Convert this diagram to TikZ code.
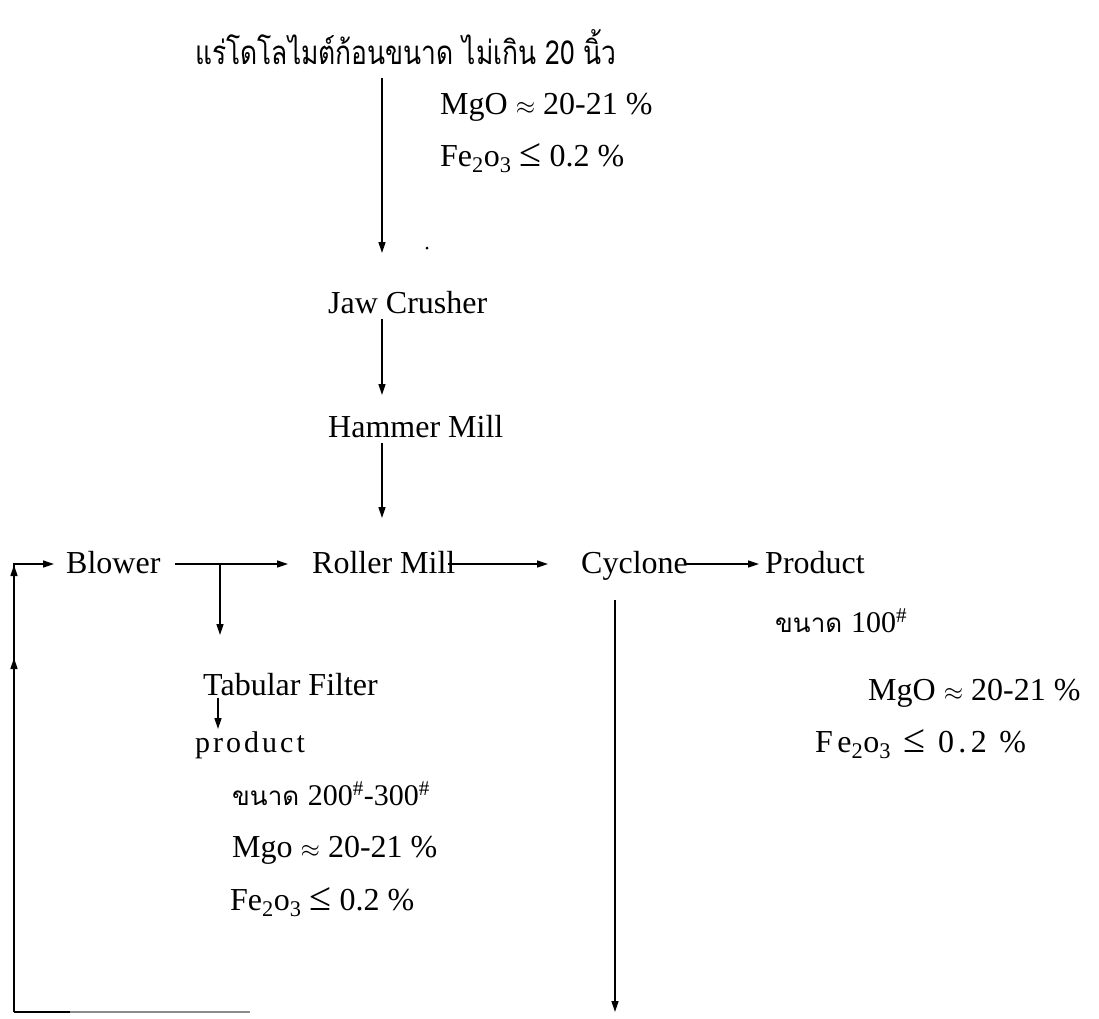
\documentclass[tikz,border=0pt]{standalone}
\usepackage{fontspec}
\setmainfont{Liberation Serif}
\newfontfamily\thai[Script=Thai]{Loma}
\newfontfamily\spaced[LetterSpace=14]{Liberation Serif}
\newfontfamily\spacedb[LetterSpace=10]{Liberation Serif}
\usetikzlibrary{arrows.meta}
\newcommand{\lesym}{\scalebox{1.25}{≤}}
\begin{document}
\begin{tikzpicture}[x=1pt,y=-1pt,
  font=\fontsize{32}{38}\selectfont,
  lbl/.style={inner sep=0pt, anchor=base west},
  ln/.style={line width=1.4pt},
  arr/.style={line width=1.4pt,-{Triangle[length=11pt,width=7pt]}}]
\fill[white] (0,0) rectangle (1099,1018);
\useasboundingbox (0,0) rectangle (1099,1018);

% top column
\node[lbl] (title) at (195,64) {\scalebox{0.88}[1.1]{\thai\fontsize{30}{36}\selectfont แร่โดโลไมต์ก้อนขนาด ไม่เกิน 20 นิ้ว}};
\node[lbl] (mgo1) at (440,114) {MgO $\approx$ 20-21 \%};
\node[lbl] (fe1) at (440,166) {Fe\textsubscript{2}o\textsubscript{3} \lesym{} 0.2 \%};
\fill (427,248) circle (1.5);
\node[lbl] (jaw) at (328,313) {Jaw Crusher};
\node[lbl] (hammer) at (328,437) {Hammer Mill};

\coordinate (colx) at (382,0);
\coordinate (rowy) at (0,564);
\draw[arr] (title.south -| colx) ++(0,14) -- (colx |- 0,253);
\draw[arr] ([yshift=-5]jaw.south -| colx) -- (colx |- 0,395);
\draw[arr] ([yshift=-5]hammer.south -| colx) -- (colx |- 0,518);

% main row
\node[lbl] (blower) at (66,573) {Blower};
\node[lbl] (roller) at (312,573) {Roller Mill};
\node[lbl] (cyclone) at (581,573) {Cyclone};
\node[lbl] (product) at (765,573) {Product};

\draw[arr] ([xshift=14]blower.east |- rowy) -- ([xshift=-24]roller.west |- rowy);
\draw[arr] ([xshift=-8]roller.east |- rowy) -- ([xshift=-33]cyclone.west |- rowy);
\draw[arr] ([xshift=-4]cyclone.east |- rowy) -- ([xshift=-6]product.west |- rowy);

% right products
\node[lbl] (size1) at (775,632) {\thai\fontsize{26}{30}\selectfont ขนาด {\rmfamily\fontsize{30}{36}\selectfont 100\textsuperscript{\#}}};
\node[lbl] (mgo3) at (868,700) {MgO $\approx$ 20-21 \%};
\node[lbl] (fe3) at (815,752) {\spaced Fe\textsubscript{2}o\textsubscript{3} \lesym{} 0.2 \%};

% tabular filter branch
\coordinate (dropx) at (220,0);
\node[lbl] (tab) at (203,695) {Tabular Filter};
\node[lbl] (prod2) at (195,752) {\spacedb\fontsize{30}{36}\selectfont product};
\node[lbl] (size2) at (232,805) {\thai\fontsize{26}{30}\selectfont ขนาด {\rmfamily\fontsize{30}{36}\selectfont 200\textsuperscript{\#}-300\textsuperscript{\#}}};
\node[lbl] (mgo2) at (232,857) {Mgo $\approx$ 20-21 \%};
\node[lbl] (fe2) at (230,910) {Fe\textsubscript{2}o\textsubscript{3} \lesym{} 0.2 \%};

\coordinate (smallx) at (218,0);
\draw[arr] (dropx |- rowy) -- (dropx |- 0,635);
\draw[arr] ([yshift=-2]tab.south -| smallx) -- ([yshift=23]prod2.base -| smallx);

% cyclone return line
\coordinate (cyx) at (615,0);
\coordinate (bot) at (0,1012);
\draw[arr] (cyx |- 0,600) -- (cyx |- bot);

% recycle loop to blower
\coordinate (lx) at (14,0);
\draw[ln] (lx |- bot) -- (lx |- rowy);
\draw[arr] ([xshift=-0.7]lx |- rowy) -- ([xshift=-12]blower.west |- rowy);
\draw[arr] (lx |- 0,700) -- (lx |- 0,658);
\draw[arr] (lx |- 0,600) -- (lx |- 0,565);
\draw[ln] (lx |- bot) -- (70,1012);
\draw[line width=1.2pt, black!45] (70,1012) -- (250,1012);
\end{tikzpicture}
\end{document}
